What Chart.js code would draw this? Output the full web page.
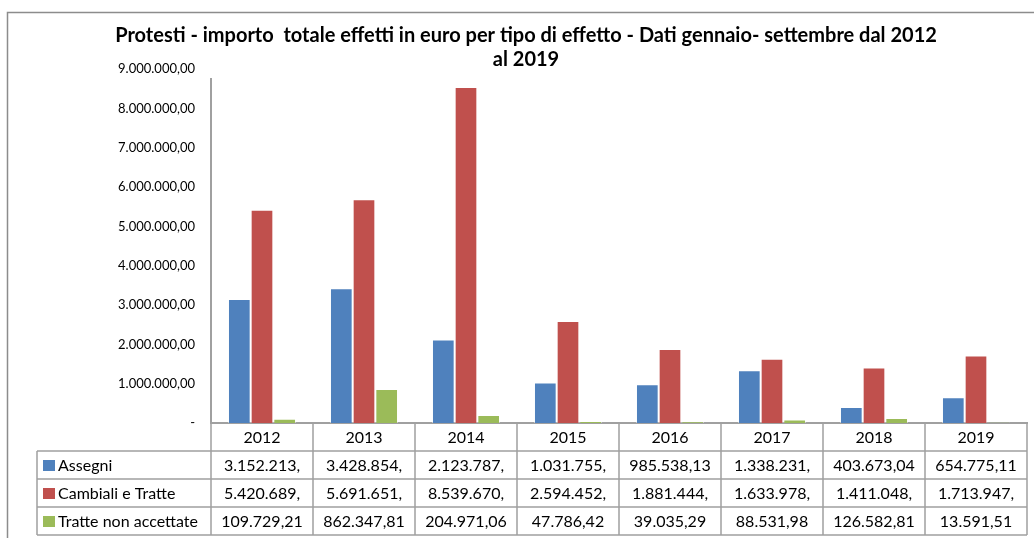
<!DOCTYPE html>
<html>
<head>
<meta charset="utf-8">
<script src="https://cdn.jsdelivr.net/npm/chart.js@4.4.1/dist/chart.umd.min.js"></script>
<style>
  html, body { margin: 0; padding: 0; background: #ffffff; }
  #wrap { position: relative; width: 1034px; height: 538px; }
  canvas { display: block; }
</style>
</head>
<body>
<div id="wrap"><canvas id="c" width="1034" height="538"></canvas></div>
<script>
// ---- data ----
const categories = ['2012', '2013', '2014', '2015', '2016', '2017', '2018', '2019'];
const seriesNames = ['Assegni', 'Cambiali e Tratte', 'Tratte non accettate'];
const assegni = [3152213, 3428854, 2123787, 1031755, 985538.13, 1338231, 403673.04, 654775.11];
const cambialiTratte = [5420689, 5691651, 8539670, 2594452, 1881444, 1633978, 1411048, 1713947];
const tratteNonAccettate = [109729.21, 862347.81, 204971.06, 47786.42, 39035.29, 88531.98, 126582.81, 13591.51];
const yTicks = [0, 1000000, 2000000, 3000000, 4000000, 5000000, 6000000, 7000000, 8000000, 9000000];
const titleLines = ['Protesti - importo  totale effetti in euro per tipo di effetto - Dati gennaio- settembre dal 2012', 'al 2019'];

const seriesValues = [assegni, cambialiTratte, tratteNonAccettate];
const seriesColors = ['#4F81BD', '#C0504D', '#9BBB59'];
const FONT = 'Lato, "Liberation Sans", sans-serif';
const LINE = '#a0a0a0';

// Italian number format with 2 decimals
function fmtIt(v) {
  const neg = v < 0; v = Math.abs(v);
  const fixed = v.toFixed(2);
  const [ip, dp] = fixed.split('.');
  const withDots = ip.replace(/\B(?=(\d{3})+(?!\d))/g, '.');
  return (neg ? '-' : '') + withDots + ',' + dp;
}
// cell text as it appears in the narrow data-table cells (cut to cell width)
function cellText(v) {
  const s = fmtIt(v);
  return s.length > 10 ? s.slice(0, 10) : s;
}

const frameAndTable = {
  id: 'frameAndTable',
  beforeDraw(chart) {
    const ctx = chart.ctx;
    ctx.save();
    ctx.fillStyle = '#ffffff';
    ctx.fillRect(0, 0, chart.width, chart.height);
    ctx.strokeStyle = '#8c8c8c';
    ctx.lineWidth = 1.5;
    ctx.beginPath();
    ctx.moveTo(7.5, chart.height);
    ctx.lineTo(7.5, 12.5);
    ctx.lineTo(chart.width, 12.5);
    ctx.stroke();
    ctx.restore();
  },
  afterDraw(chart) {
    const ctx = chart.ctx;
    const area = chart.chartArea;
    const xs = chart.scales.x;
    const n = categories.length;
    const colW = (area.right - area.left) / n;
    const rowH = 28;
    const top = area.bottom;
    const legendLeft = 37;
    ctx.save();
    ctx.strokeStyle = LINE;
    ctx.lineWidth = 2;
    // value axis line (starts a little below the plot top, as in the original)
    ctx.beginPath();
    ctx.moveTo(area.left, area.top + 9);
    ctx.lineTo(area.left, area.bottom);
    ctx.stroke();

    ctx.lineWidth = 1.5;
    ctx.beginPath();
    // horizontal lines
    for (let r = 1; r <= 4; r++) {
      const y = top + r * rowH;
      ctx.moveTo(legendLeft, y);
      ctx.lineTo(area.right, y);
    }
    // vertical lines
    for (let i = 0; i <= n; i++) {
      const x = xs.getPixelForValue(0) - colW / 2 + i * colW;
      ctx.moveTo(x, top);
      ctx.lineTo(x, top + 4 * rowH);
    }
    ctx.moveTo(legendLeft, top + rowH);
    ctx.lineTo(legendLeft, top + 4 * rowH);
    ctx.stroke();

    ctx.fillStyle = '#000000';
    ctx.font = '16px ' + FONT;
    ctx.textBaseline = 'middle';
    ctx.textAlign = 'center';
    categories.forEach((c, i) => {
      ctx.fillText(c, xs.getPixelForValue(i), top + rowH / 2 + 1);
    });
    seriesValues.forEach((vals, s) => {
      const yc = top + (s + 1) * rowH + rowH / 2 + 1;
      ctx.textAlign = 'center';
      ctx.fillStyle = '#000000';
      vals.forEach((v, i) => {
        ctx.fillText(cellText(v), xs.getPixelForValue(i), yc);
      });
      ctx.fillStyle = seriesColors[s];
      ctx.fillRect(legendLeft + 6, yc - 6, 12, 11);
      ctx.fillStyle = '#000000';
      ctx.textAlign = 'left';
      ctx.fillText(seriesNames[s], legendLeft + 21, yc);
    });
    ctx.restore();
  }
};

new Chart(document.getElementById('c'), {
  type: 'bar',
  data: {
    labels: categories,
    datasets: seriesNames.map((name, s) => ({
      label: name,
      data: seriesValues[s],
      backgroundColor: seriesColors[s],
      borderColor: 'rgba(255,255,255,0.45)',
      borderWidth: 1,
      categoryPercentage: 0.667,
      barPercentage: 1.0
    }))
  },
  options: {
    responsive: false,
    animation: false,
    devicePixelRatio: 1,
    layout: { padding: { left: 25, right: 7, top: 0, bottom: 115 } },
    plugins: {
      legend: { display: false },
      tooltip: { enabled: false },
      title: {
        display: true,
        text: titleLines,
        color: '#000000',
        font: { family: FONT, size: 20, weight: 'bold', lineHeight: 1.2 },
        padding: { top: 24, bottom: -3 }
      }
    },
    scales: {
      x: {
        grid: { display: false, drawTicks: false },
        border: { display: true, color: LINE, width: 2 },
        ticks: { display: false },
        afterFit(s) { s.height = 0; }
      },
      y: {
        min: 0,
        max: 9000000,
        afterBuildTicks(s) { s.ticks = yTicks.map(v => ({ value: v })); },
        grid: { display: false, drawTicks: false },
        border: { display: false },
        ticks: {
          padding: 16,
          color: '#000000',
          font: { family: FONT, size: 13 },
          callback: (v) => (v === 0 ? '-' : fmtIt(v))
        },
        afterFit(s) { s.width = 186; }
      }
    }
  },
  plugins: [frameAndTable]
});
</script>
</body>
</html>
